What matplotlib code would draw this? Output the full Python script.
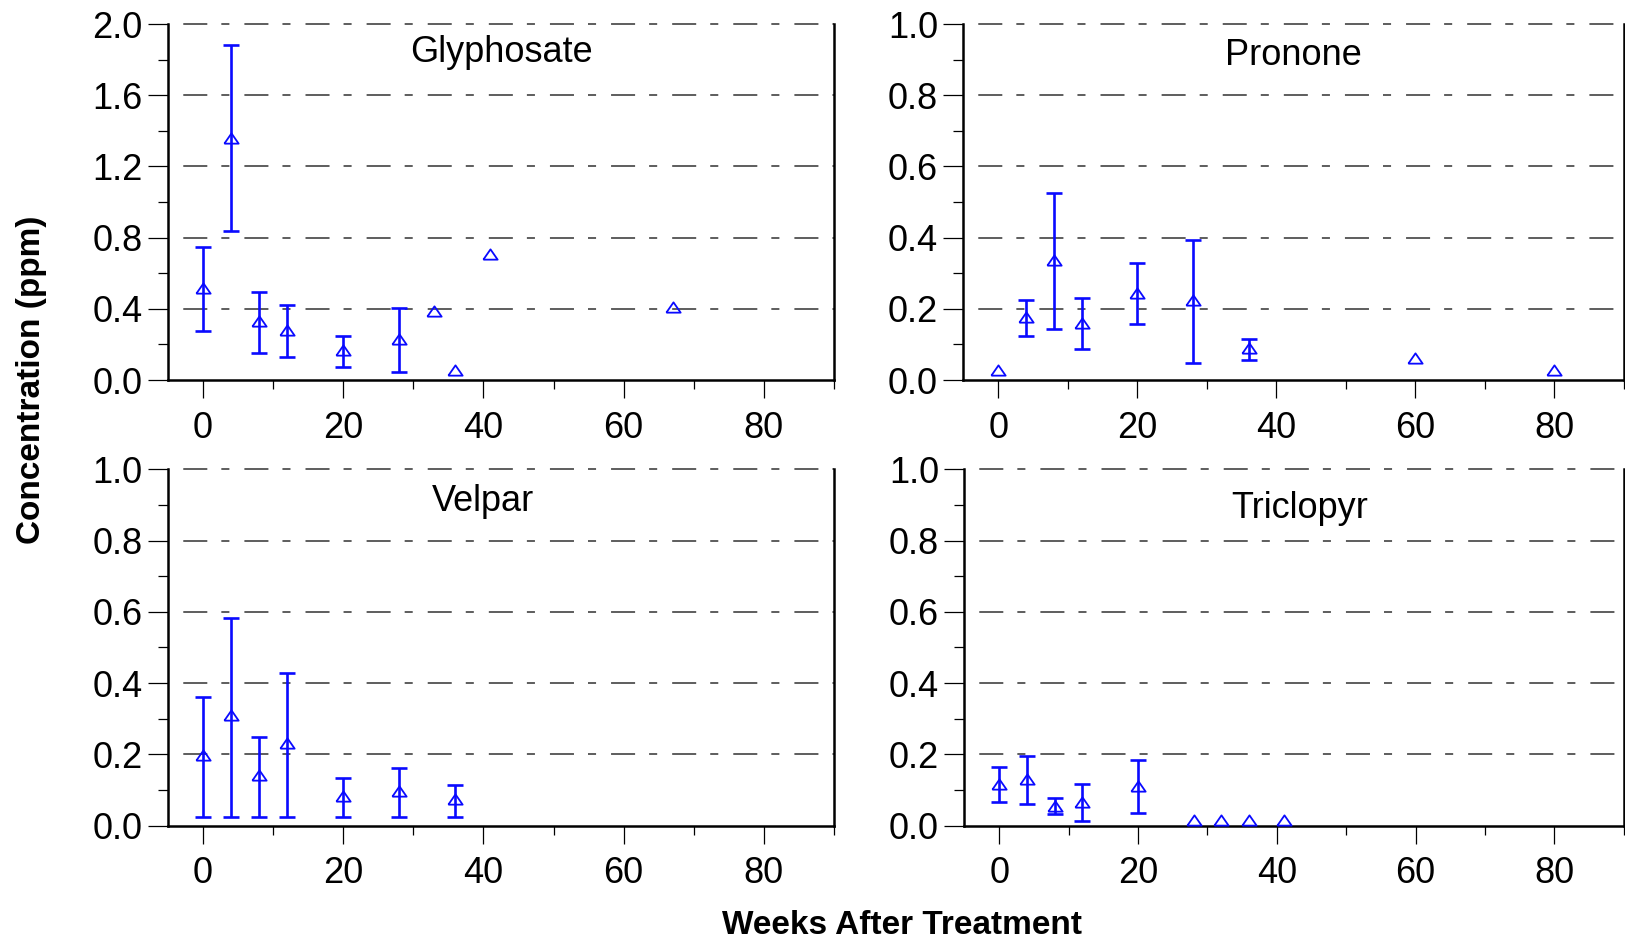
import numpy as np
import matplotlib
matplotlib.use("Agg")
import matplotlib.pyplot as plt
from matplotlib.ticker import MultipleLocator, FormatStrFormatter

plt.rcParams["font.family"] = ["Liberation Sans", "DejaVu Sans"]
plt.rcParams["lines.scale_dashes"] = False

nan = np.nan

# Glyphosate
gly_weeks = [0, 4, 8, 12, 20, 28, 33, 36, 41, 67]
gly_mean = [0.515, 1.36, 0.33, 0.28, 0.17, 0.23, 0.39, 0.055, 0.71, 0.41]
gly_low = [0.275, 0.835, 0.15, 0.127, 0.075, 0.047, nan, nan, nan, nan]
gly_high = [0.745, 1.88, 0.496, 0.421, 0.247, 0.403, nan, nan, nan, nan]

# Pronone
pro_weeks = [0, 4, 8, 12, 20, 28, 36, 60, 80]
pro_mean = [0.028, 0.178, 0.337, 0.161, 0.245, 0.225, 0.089, 0.061, 0.028]
pro_low = [nan, 0.125, 0.142, 0.087, 0.156, 0.047, 0.057, nan, nan]
pro_high = [nan, 0.225, 0.526, 0.231, 0.328, 0.393, 0.115, nan, nan]

# Velpar
vel_weeks = [0, 4, 8, 12, 20, 28, 36]
vel_mean = [0.198, 0.311, 0.142, 0.231, 0.084, 0.098, 0.074]
vel_low = [0.025, 0.025, 0.025, 0.025, 0.025, 0.025, 0.025]
vel_high = [0.361, 0.582, 0.250, 0.427, 0.134, 0.161, 0.113]

# Triclopyr
tri_weeks = [0, 4, 8, 12, 20, 28, 32, 36, 41]
tri_mean = [0.117, 0.131, 0.056, 0.067, 0.112, 0.016, 0.016, 0.016, 0.016]
tri_low = [0.067, 0.061, 0.032, 0.013, 0.035, nan, nan, nan, nan]
tri_high = [0.164, 0.196, 0.078, 0.116, 0.185, nan, nan, nan, nan]

x_ticks = [0, 20, 40, 60, 80]

BLUE = "#0a0aff"
GRID = "#3a3a3a"
PX = 0.72  # points per pixel at dpi 100

# flattened open triangle
TRI = [(-1, -0.72), (1, -0.72), (0, 0.72), (-1, -0.72)]


def draw_panel(ax, weeks, mean, low, high, ymax, ystep, title, tx, ty):
    weeks = np.array(weeks, dtype=float)
    mean = np.array(mean, dtype=float)
    low = np.array(low, dtype=float)
    high = np.array(high, dtype=float)

    has_bar = ~np.isnan(low)
    ax.errorbar(weeks[has_bar], mean[has_bar],
                yerr=[mean[has_bar] - low[has_bar], high[has_bar] - mean[has_bar]],
                fmt="none", ecolor=BLUE, elinewidth=1.9, capsize=5.6,
                capthick=1.9, zorder=3)
    ax.plot(weeks, mean, linestyle="none", marker=TRI, markersize=10.3,
            markerfacecolor="none", markeredgecolor=BLUE,
            markeredgewidth=1.3, zorder=4)

    ax.set_xlim(-5, 90)
    ax.set_ylim(0, ymax)

    ax.xaxis.set_major_locator(MultipleLocator(20))
    ax.xaxis.set_minor_locator(MultipleLocator(10))
    ax.yaxis.set_major_locator(MultipleLocator(ystep))
    ax.yaxis.set_minor_locator(MultipleLocator(ystep / 2))
    ax.yaxis.set_major_formatter(FormatStrFormatter("%.1f"))
    ax.set_xticks(x_ticks)

    # dash-dot grid at major y values
    for v in np.arange(ystep, ymax + ystep / 2, ystep):
        ax.axhline(v, color=GRID, linewidth=1.15,
                   linestyle=(33, (17.3, 10.1, 5.8, 10.8)),
                   clip_on=False, zorder=1)

    ax.spines["top"].set_visible(False)
    for s in ["left", "bottom", "right"]:
        ax.spines[s].set_linewidth(1.8)

    ax.tick_params(axis="x", which="major", direction="out", length=18 * PX,
                   width=0.9, pad=9, labelsize=26)
    ax.tick_params(axis="x", which="minor", direction="out", length=9 * PX,
                   width=0.9)
    ax.tick_params(axis="y", which="major", direction="out", length=20 * PX,
                   width=0.9, pad=4, labelsize=26)
    ax.tick_params(axis="y", which="minor", direction="out", length=10 * PX,
                   width=0.9)

    ax.text(tx, ty, title, transform=ax.transAxes, ha="center",
            va="baseline", fontsize=26)


fig = plt.figure(figsize=(16.25, 9.42), dpi=100)

ax1 = fig.add_axes([0.1034, 0.5966, 0.4098, 0.3779])
ax2 = fig.add_axes([0.5929, 0.5966, 0.4065, 0.3779])
ax3 = fig.add_axes([0.1034, 0.1235, 0.4098, 0.3784])
ax4 = fig.add_axes([0.5935, 0.1235, 0.4058, 0.3784])

draw_panel(ax1, gly_weeks, gly_mean, gly_low, gly_high, 2.0, 0.4,
           "Glyphosate", 0.501, 0.893)
draw_panel(ax2, pro_weeks, pro_mean, pro_low, pro_high, 1.0, 0.2,
           "Pronone", 0.499, 0.886)
draw_panel(ax3, vel_weeks, vel_mean, vel_low, vel_high, 1.0, 0.2,
           "Velpar", 0.473, 0.882)
draw_panel(ax4, tri_weeks, tri_mean, tri_low, tri_high, 1.0, 0.2,
           "Triclopyr", 0.508, 0.863)

fig.text(0.555, 0.0085, "Weeks After Treatment", ha="center", va="baseline",
         fontsize=24, fontweight="bold")
fig.text(0.0195, 0.597, "Concentration (ppm)", ha="center", va="center",
         rotation=90, fontsize=24, fontweight="bold")

fig.savefig("out.png", dpi=100)
